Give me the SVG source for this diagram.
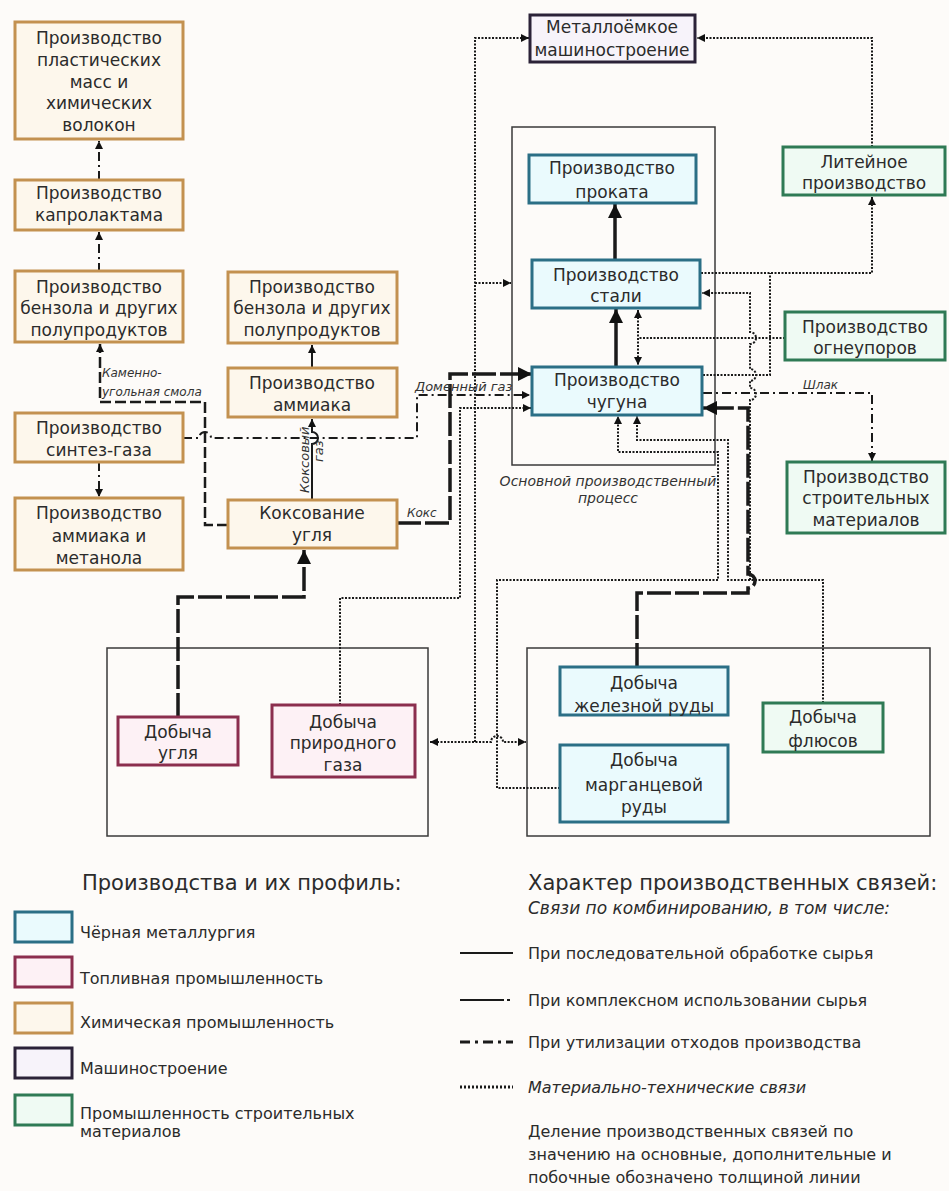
<svg xmlns="http://www.w3.org/2000/svg" width="949" height="1191" viewBox="0 0 949 1191">
<style>
.n rect{stroke-width:3}
.n text,.lg text{font-family:"DejaVu Sans","Liberation Sans",sans-serif;fill:#2b2b2b;font-size:17px;text-anchor:middle}
.blue rect{stroke:#2b6f86;fill:#eafafd}
.orange rect{stroke:#c39150;fill:#fdf7ec}
.red rect{stroke:#8b2e4e;fill:#fdf1f5}
.purple rect{stroke:#2b2238;fill:#f7f3fa}
.green rect{stroke:#2f7a55;fill:#effaf3}
.cont{fill:none;stroke:#3a3a3a;stroke-width:1.5}
.c path{fill:none;stroke:#1a1a1a}
.thick{stroke-width:3.5;stroke-dasharray:24 4}
.solidT{stroke-width:3.5}
.solid{stroke-width:2}
.dd{stroke-width:2;stroke-dasharray:9 4 2 4}
.dot{stroke-width:2;stroke-dasharray:2 1.5}
.dash{stroke-width:2.5;stroke-dasharray:11 4}
.lab{font-family:"DejaVu Sans","Liberation Sans",sans-serif;font-style:italic;font-size:12px;fill:#333}
.lab.m{font-size:13px}
.lab.l{font-size:14px;text-anchor:middle}
.lg text{text-anchor:start;font-size:16px}
.lg .ttl{font-size:21px}
.lg .sub{font-size:17px;font-style:italic}
.lg rect{stroke-width:3}
</style>
<defs>
<marker id="big" viewBox="0 0 14 14" markerWidth="14" markerHeight="14" refX="14" refY="7" orient="auto" markerUnits="userSpaceOnUse"><path d="M0,0 L14,7 L0,14 z" fill="#111"/></marker>
<marker id="sm" viewBox="0 0 8 8" markerWidth="8" markerHeight="8" refX="8" refY="4" orient="auto-start-reverse" markerUnits="userSpaceOnUse"><path d="M0,0 L8,4 L0,8 z" fill="#111"/></marker>
</defs>
<rect x="0" y="0" width="949" height="1191" fill="#fdfbf9"/>

<g id="containers">
<rect class="cont" x="512" y="127" width="203" height="338"/>
<rect class="cont" x="107" y="648" width="321" height="188"/>
<rect class="cont" x="527" y="648" width="403" height="188"/>
<text class="lab l" x="608" y="486">Основной производственный</text>
<text class="lab l" x="608" y="503">процесс</text>
</g>

<g id="connectors" class="c">
<path class="dd" d="M99,180 V141" marker-end="url(#sm)"/>
<path class="dd" d="M99,272 V232" marker-end="url(#sm)"/>
<path class="dash" d="M228,525 H205 V402 H100 V344" marker-end="url(#sm)"/>
<path class="dd" d="M99,462 V497" marker-end="url(#sm)"/>
<path class="dd" d="M183,438 H199 a6,6 0 0 1 12,0 H417 V395 H530" marker-end="url(#sm)"/>
<path class="solid" d="M312,368 V345" marker-end="url(#sm)"/>
<path class="solid" d="M312,500 V444 a6,6 0 0 0 0,-12 V419" marker-end="url(#sm)"/>
<path class="thick" d="M397,523 H450 V374 H532" marker-end="url(#big)"/>
<path class="thick" d="M178,717 V597 H304 V550" marker-end="url(#big)"/>
<path class="solidT" d="M615,260 V204" marker-end="url(#big)"/>
<path class="solidT" d="M616,367 V309" marker-end="url(#big)"/>
<path class="dot" d="M785,338 H638"/>
<path class="dot" d="M638,310 V365" marker-start="url(#sm)" marker-end="url(#sm)"/>
<path class="dot" d="M701,273 H872 V197" marker-end="url(#sm)"/>
<path class="dot" d="M703,375 H770 V273"/>
<path class="dot" d="M872,147 V38 H697" marker-end="url(#sm)"/>
<path class="dot" d="M475,742 V38 H529" marker-end="url(#sm)"/>
<path class="dot" d="M475,283 H511" marker-end="url(#sm)"/>
<path class="dd" d="M703,393 H872 V461" marker-end="url(#sm)"/>
<path class="dot" d="M340,705 V598 H460 V408 H531" marker-end="url(#sm)"/>
<path class="dot" d="M430,742 H491 a6,6 0 0 1 12,0 H526" marker-start="url(#sm)" marker-end="url(#sm)"/>
<path class="dot" d="M560,788 H497 V580 H718 V452 H618 V416" marker-end="url(#sm)"/>
<path class="dot" d="M823,703 V580 H728 V440 H637 V416" marker-end="url(#sm)"/>
<path class="dot" d="M750,580 V400 a6,6 0 0 0 0,-12 V381 a6,6 0 0 0 0,-12 V344 a6,6 0 0 0 0,-12 V293 H702" marker-end="url(#sm)"/>
<path class="thick" d="M637,667 V593 H748 V588 a7,7 0 0 0 0,-14 V408 H703" marker-end="url(#big)"/>
<text class="lab" x="102" y="377">Каменно-</text>
<text class="lab" x="102" y="396">угольная смола</text>
<text class="lab m" x="415" y="391">Доменный газ</text>
<text class="lab" x="407" y="517">Кокс</text>
<text class="lab" x="803" y="389">Шлак</text>
<text class="lab m" transform="translate(309,493) rotate(-90)">Коксовый</text>
<text class="lab m" transform="translate(323,462) rotate(-90)">газ</text>
</g>

<g id="n-plastics" class="n orange"><rect x="15" y="22" width="168" height="117"/><text x="99"><tspan x="99" y="44">Производство</tspan><tspan x="99" y="66">пластических</tspan><tspan x="99" y="88">масс и</tspan><tspan x="99" y="109">химических</tspan><tspan x="99" y="131">волокон</tspan></text></g>
<g id="n-kaprolaktam" class="n orange"><rect x="15" y="180" width="168" height="50"/><text><tspan x="99" y="199">Производство</tspan><tspan x="99" y="221">капролактама</tspan></text></g>
<g id="n-benzol1" class="n orange"><rect x="15" y="271" width="168" height="71"/><text><tspan x="99" y="293">Производство</tspan><tspan x="99" y="314">бензола и других</tspan><tspan x="99" y="336">полупродуктов</tspan></text></g>
<g id="n-sintez" class="n orange"><rect x="15" y="413" width="168" height="49"/><text><tspan x="99" y="434">Производство</tspan><tspan x="99" y="456">синтез-газа</tspan></text></g>
<g id="n-ammiak-metanol" class="n orange"><rect x="15" y="498" width="168" height="72"/><text><tspan x="99" y="519">Производство</tspan><tspan x="99" y="542">аммиака и</tspan><tspan x="99" y="564">метанола</tspan></text></g>
<g id="n-benzol2" class="n orange"><rect x="228" y="272" width="169" height="71"/><text><tspan x="312" y="293">Производство</tspan><tspan x="312" y="314">бензола и других</tspan><tspan x="312" y="336">полупродуктов</tspan></text></g>
<g id="n-ammiak" class="n orange"><rect x="228" y="368" width="169" height="49"/><text><tspan x="312" y="389">Производство</tspan><tspan x="312" y="411">аммиака</tspan></text></g>
<g id="n-koks" class="n orange"><rect x="228" y="500" width="169" height="48"/><text><tspan x="312" y="519">Коксование</tspan><tspan x="312" y="541">угля</tspan></text></g>
<g id="n-mash" class="n purple"><rect x="530" y="15" width="165" height="47"/><text><tspan x="612" y="33">Металлоёмкое</tspan><tspan x="612" y="56">машиностроение</tspan></text></g>
<g id="n-prokat" class="n blue"><rect x="529" y="155" width="167" height="48"/><text><tspan x="612" y="174">Производство</tspan><tspan x="612" y="198">проката</tspan></text></g>
<g id="n-stal" class="n blue"><rect x="532" y="260" width="168" height="48"/><text><tspan x="616" y="281">Производство</tspan><tspan x="616" y="302">стали</tspan></text></g>
<g id="n-chugun" class="n blue"><rect x="532" y="367" width="170" height="48"/><text><tspan x="617" y="386">Производство</tspan><tspan x="617" y="408">чугуна</tspan></text></g>
<g id="n-liteinoe" class="n green"><rect x="783" y="147" width="162" height="48"/><text><tspan x="864" y="168">Литейное</tspan><tspan x="864" y="189">производство</tspan></text></g>
<g id="n-ogneupor" class="n green"><rect x="785" y="312" width="160" height="48"/><text><tspan x="865" y="333">Производство</tspan><tspan x="865" y="354">огнеупоров</tspan></text></g>
<g id="n-stroimat" class="n green"><rect x="787" y="462" width="158" height="71"/><text><tspan x="866" y="483">Производство</tspan><tspan x="866" y="504">строительных</tspan><tspan x="866" y="526">материалов</tspan></text></g>
<g id="n-ugol" class="n red"><rect x="118" y="717" width="120" height="48"/><text><tspan x="178" y="738">Добыча</tspan><tspan x="178" y="759">угля</tspan></text></g>
<g id="n-gaz" class="n red"><rect x="272" y="705" width="143" height="72"/><text><tspan x="343" y="728">Добыча</tspan><tspan x="343" y="749">природного</tspan><tspan x="343" y="771">газа</tspan></text></g>
<g id="n-zhelruda" class="n blue"><rect x="560" y="667" width="168" height="48"/><text><tspan x="644" y="689">Добыча</tspan><tspan x="644" y="712">железной руды</tspan></text></g>
<g id="n-flus" class="n green"><rect x="763" y="703" width="120" height="49"/><text><tspan x="823" y="723">Добыча</tspan><tspan x="823" y="747">флюсов</tspan></text></g>
<g id="n-marg" class="n blue"><rect x="560" y="745" width="168" height="77"/><text><tspan x="644" y="766">Добыча</tspan><tspan x="644" y="791">марганцевой</tspan><tspan x="644" y="813">руды</tspan></text></g>

<g id="legend-profile" class="lg">
<text class="ttl" x="82" y="890">Производства и их профиль:</text>
<g class="blue"><rect x="15" y="912" width="57" height="30"/></g><text x="80" y="938">Чёрная металлургия</text>
<g class="red"><rect x="15" y="957" width="57" height="30"/></g><text x="80" y="984">Топливная промышленность</text>
<g class="orange"><rect x="15" y="1003" width="57" height="30"/></g><text x="80" y="1028">Химическая промышленность</text>
<g class="purple"><rect x="15" y="1048" width="57" height="30"/></g><text x="80" y="1074">Машиностроение</text>
<g class="green"><rect x="15" y="1095" width="57" height="30"/></g><text x="80" y="1119">Промышленность строительных</text><text x="80" y="1137">материалов</text>
</g>

<g id="legend-links" class="lg">
<text class="ttl" x="528" y="890">Характер производственных связей:</text>
<text class="sub" x="528" y="914">Связи по комбинированию, в том числе:</text>
<g class="c">
<path d="M460,953 H513" stroke-width="2"/>
<path d="M460,1000 H513" stroke-width="2" stroke-dasharray="44 3 3 3"/>
<path d="M460,1042 H513" stroke-width="3" stroke-dasharray="10 5 3 5"/>
<path d="M460,1087 H513" stroke-width="3" stroke-dasharray="2 2"/>
</g>
<text x="528" y="959">При последовательной обработке сырья</text>
<text x="528" y="1006">При комплексном использовании сырья</text>
<text x="528" y="1048">При утилизации отходов производства</text>
<text x="528" y="1093" font-style="italic">Материально-технические связи</text>
<text x="528" y="1137">Деление производственных связей по</text>
<text x="528" y="1160">значению на основные, дополнительные и</text>
<text x="528" y="1183">побочные обозначено толщиной линии</text>
</g>
</svg>
